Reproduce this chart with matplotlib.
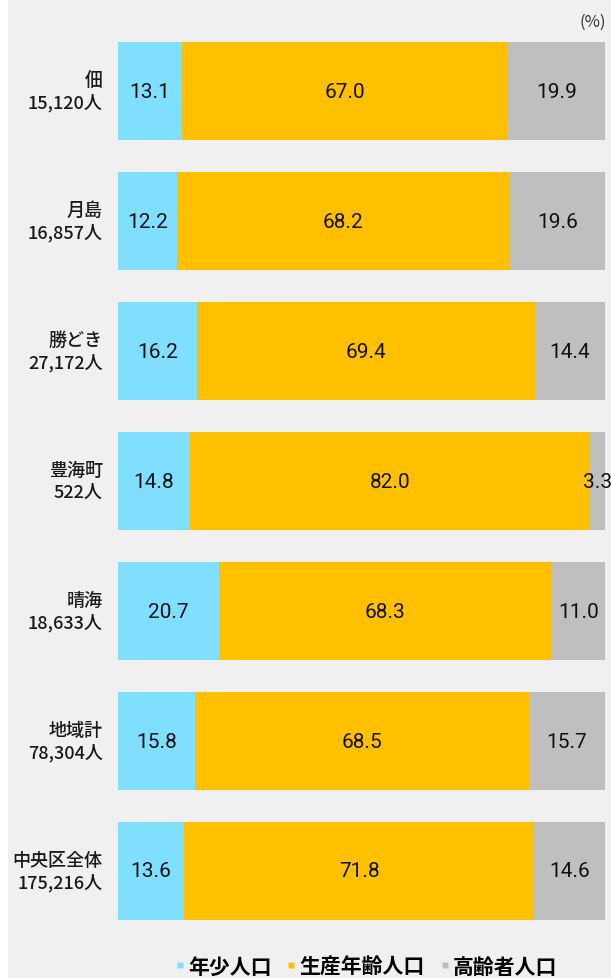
import matplotlib
matplotlib.use("Agg")
import matplotlib.pyplot as plt
from matplotlib.lines import Line2D
from matplotlib.patches import Rectangle

areas = ["佃", "月島", "勝どき", "豊海町", "晴海", "地域計", "中央区全体"]
populations = ["15,120人", "16,857人", "27,172人", "522人", "18,633人", "78,304人", "175,216人"]
youth = [13.1, 12.2, 16.2, 14.8, 20.7, 15.8, 13.6]
working = [67.0, 68.2, 69.4, 82.0, 68.3, 68.5, 71.8]
elderly = [19.9, 19.6, 14.4, 3.3, 11.0, 15.7, 14.6]
series_names = ["年少人口", "生産年齢人口", "高齢者人口"]
colors = ["#80DEFF", "#FFC000", "#BFBFBF"]

plt.rcParams['font.family'] = ['Noto Sans CJK JP', 'DejaVu Sans']

W, H = 611, 979
fig = plt.figure(figsize=(W / 100, H / 100), dpi=100, facecolor="white")
fig.patches.append(Rectangle((8 / W, 0), 1, 1, transform=fig.transFigure,
                             facecolor="#F0F0F0", edgecolor="none", zorder=-10))

ax = fig.add_axes([118 / W, 1 - 937 / H, (605 - 118) / W, (937 - 27) / H])
ax.set_facecolor("none")

n = len(areas)
ypos = list(range(n))
left = [0.0] * n
for vals, col in zip([youth, working, elderly], colors):
    bars = ax.barh(ypos, vals, left=left, height=0.755, color=col, edgecolor="none")
    for b, v in zip(bars, vals):
        cx = b.get_x() + b.get_width() / 2
        ax.text(cx, b.get_y() + b.get_height() / 2, f"{v:.1f}", ha="center", va="center",
                fontsize=15, family=["Roboto", "DejaVu Sans"], color="#111111")
    left = [l + v for l, v in zip(left, vals)]

ax.set_xlim(0, 100)
ax.set_ylim(n - 0.5, -0.5)
ax.set_xticks([])
ax.set_yticks([])
for s in ax.spines.values():
    s.set_visible(False)

for i, (a, p) in enumerate(zip(areas, populations)):
    ax.annotate(f"{a}\n{p}", xy=(0, i), xycoords="data", xytext=(-11, 0),
                textcoords="offset points", ha="right", va="center",
                fontsize=13, linespacing=1.25, color="#1a1a1a", multialignment="right",
                fontweight="medium")

fig.text(606 / W, 1 - 22 / H, "(%)", ha="right", va="center", fontsize=12, color="#333333")

handles = [Line2D([], [], marker="s", linestyle="none", markersize=5,
                  markerfacecolor=c, markeredgecolor="none") for c in colors]
fig.legend(handles, series_names, loc="center", bbox_to_anchor=(366 / W, 1 - 967 / H),
           ncol=3, frameon=False, fontsize=15, handlelength=0.5, handletextpad=0.15,
           columnspacing=0.7, borderpad=0, prop={"size": 15, "weight": "bold"})

fig.savefig("out.png", dpi=100, facecolor=fig.get_facecolor())
